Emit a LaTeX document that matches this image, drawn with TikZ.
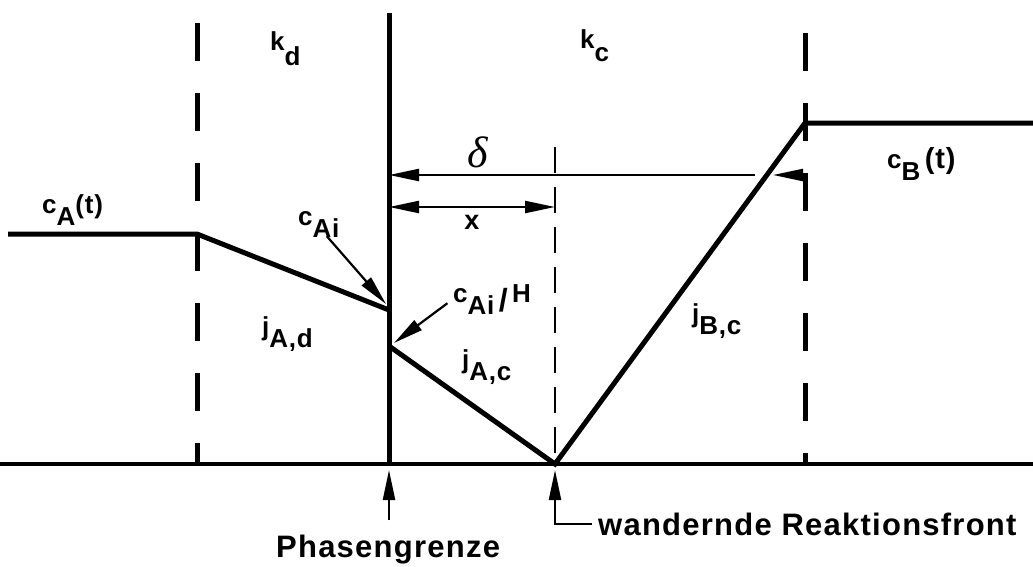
\documentclass[tikz,border=0pt]{standalone}
\usepackage{fontspec}
\setmainfont{Liberation Sans}
\newfontfamily\capfont{Liberation Sans}[LetterSpace=4]
\newfontfamily\lblfont{Liberation Sans}[LetterSpace=3]
\newfontfamily\greekfont{Liberation Serif}
\usetikzlibrary{arrows.meta}

\newcommand{\lo}[2][12pt]{\raisebox{-#1}{#2}}

\begin{document}
\begin{tikzpicture}[
    x=1pt, y=-1pt,
    profile/.style={line width=5pt, line join=miter},
    wall/.style={line width=5pt},
    film/.style={line width=5pt, dash pattern=on 38pt off 32pt},
    front/.style={line width=2.2pt, dash pattern=on 26pt off 14pt},
    dim/.style={line width=2.2pt},
    pointer/.style={line width=2.2pt, -{Triangle[length=30pt,width=12pt]}},
    lbl/.style={font=\lblfont\fontsize{26}{28}\selectfont\bfseries, inner sep=0pt, anchor=base west},
    caption/.style={font=\capfont\fontsize{31}{33}\selectfont\bfseries, inner sep=0pt, anchor=base west}
]
    \useasboundingbox (0,0) rectangle (1033,566);

    % axis, phase boundary and film borders
    \coordinate (axl) at (0,464);
    \coordinate (axr) at (1033,464);
    \coordinate (pgtop) at (389,13);
    \coordinate (pgbot) at (389,464);
    \coordinate (dltop) at (197,23);
    \coordinate (dlbot) at (197,464);
    \coordinate (drtop) at (805,33);
    \coordinate (drbot) at (805,464);
    \coordinate (fttop) at (555,147);
    \coordinate (ftbot) at (555,464);

    \draw [line width=4pt] (axl) -- (axr);
    \draw [wall] (pgtop) -- (pgbot);
    \draw [film] (dltop) -- (dlbot);
    \draw [film] (drtop) -- (drbot);
    \draw [front] (fttop) -- (ftbot);

    % concentration profile
    \coordinate (a0) at (8,234);
    \coordinate (a1) at (197,234);
    \coordinate (ai) at (389,310);
    \coordinate (aih) at (389,346);
    \coordinate (rf) at (555,464);
    \coordinate (b1) at (805,123);
    \coordinate (b0) at (1033,123);
    \draw [profile] (a0) -- (a1) -- (ai);
    \draw [profile] (aih) -- (rf) -- (b1) -- (b0);

    % dimensions
    \coordinate (d0) at (389,175);
    \coordinate (d1) at (755,175);
    \coordinate (d2) at (805,175);
    \coordinate (d3) at (773,175);
    \coordinate (x0) at (389,207);
    \coordinate (x1) at (555,207);
    \draw [dim, -{Triangle[length=30pt,width=12pt]}] (d1) -- (d0);
    \draw [dim, -{Triangle[length=30pt,width=12pt]}] (d2) -- (d3);
    \draw [dim, {Triangle[length=30pt,width=12pt]}-{Triangle[length=30pt,width=12pt]}] (x0) -- (x1);
    \node [font=\greekfont\itshape\fontsize{44}{44}\selectfont, inner sep=0pt] (delta) at (478,152) {δ};
    \node [font=\fontsize{27}{28}\selectfont\bfseries, inner sep=0pt] (xlbl) at (472,222) {x};

    % labels
    \node [lbl] (kd) at (270,50) {k\lo[15pt]{d}};
    \node [lbl] (kc) at (580,48) {k\lo[13pt]{c}};
    \node [lbl] (cat) at (42,213) {c\lo{A}(t)};
    \node [lbl] (cai) at (298,225) {c\lo{Ai}};
    \node [lbl] (caih) at (453,302) {c\lo{Ai}\,\raisebox{-9pt}{\fontsize{32}{32}\selectfont/}\,H};
    \node [lbl] (jad) at (262,335) {j\lo{A,d}};
    \node [lbl] (jac) at (462,368) {j\lo{A,c}};
    \node [lbl] (jbc) at (692,322) {j\lo{B,c}};
    \node [lbl] (cbt) at (887,168) {c\lo{B}\,{\fontsize{29}{29}\selectfont(t)}};

    \coordinate (caitip) at (386,304);
    \coordinate (caihtip) at (394,343);
    \draw [pointer] ([xshift=8pt,yshift=1pt]cai.south) -- (caitip);
    \draw [pointer, shorten <=7pt] (caih.west) -- (caihtip);

    % captions below the axis
    \node [caption] (pgl) at (276,557) {Phasengrenze};
    \node [caption] (rfl) at (598,535) {wandernde Reaktionsfront};
    \coordinate (pgtip) at (389,470);
    \coordinate (rftip) at (555,470);
    \draw [pointer, shorten <=14pt] (pgl.north -| pgbot) -- (pgtip);
    \draw [pointer, shorten <=6pt] (rfl.west) -| (rftip);
\end{tikzpicture}
\end{document}
